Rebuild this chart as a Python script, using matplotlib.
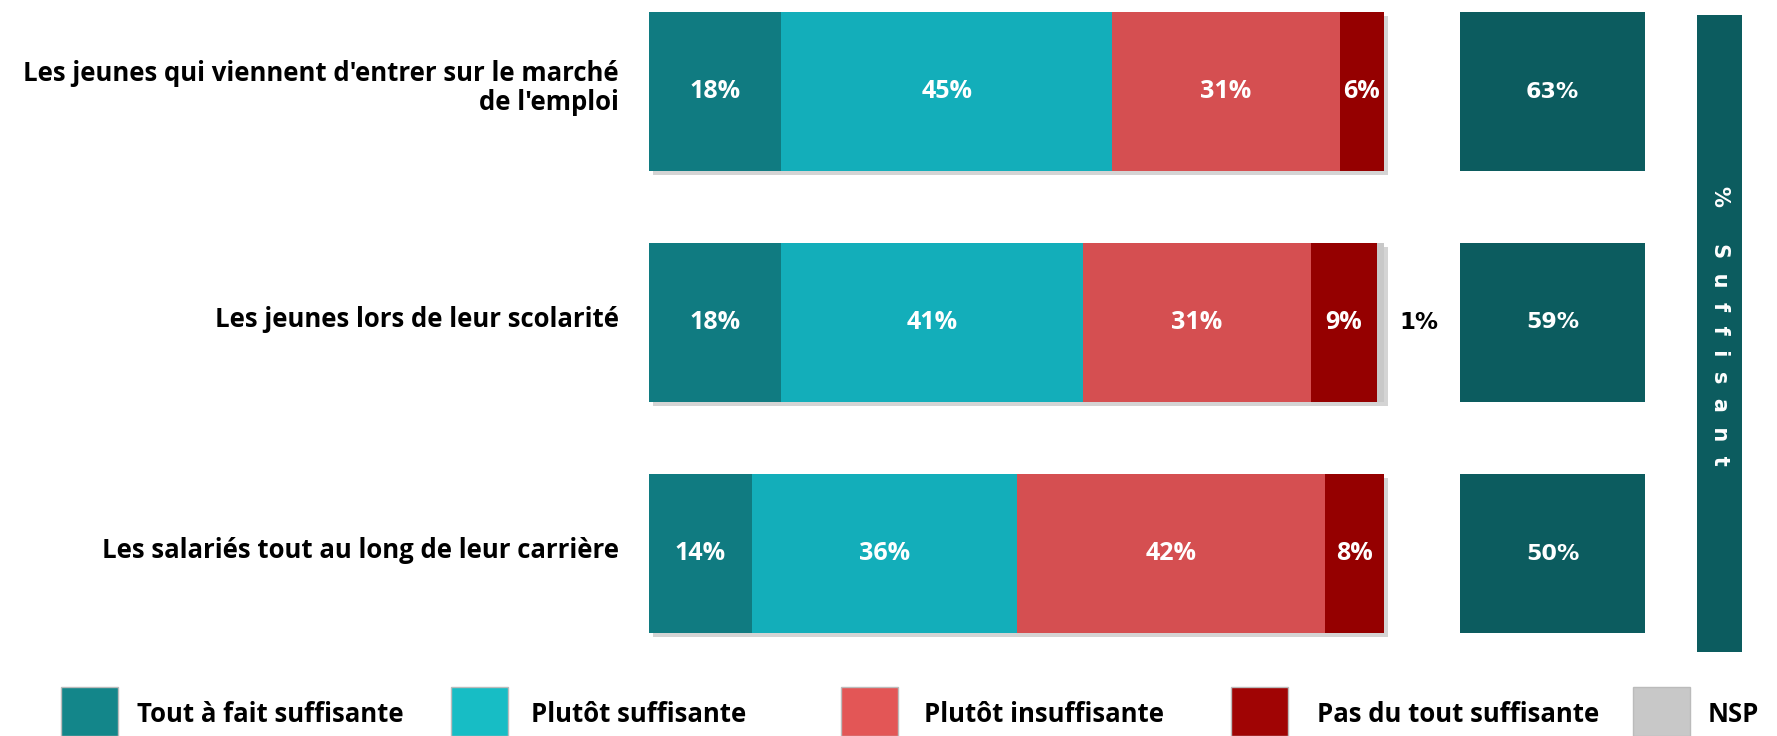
import matplotlib.pyplot as plt
import matplotlib.patheffects as pe
from matplotlib.patches import Rectangle

# ── Data ──────────────────────────────────────────────────────────────────────
CATEGORIES = [
    "Les jeunes qui viennent d'entrer sur le marché\nde l'emploi",
    "Les jeunes lors de leur scolarité",
    "Les salariés tout au long de leur carrière",
]
SERIES = ["Tout à fait suffisante", "Plutôt suffisante", "Plutôt insuffisante",
          "Pas du tout suffisante", "NSP"]
TOUT_A_FAIT = [18, 18, 14]
PLUTOT_SUFF = [45, 41, 36]
PLUTOT_INSUFF = [31, 31, 42]
PAS_DU_TOUT = [6, 9, 8]
NSP = [0, 1, 0]
SUFFISANT = [63, 59, 50]

# ── Colours ───────────────────────────────────────────────────────────────────
BAR_COLOURS = ["#107B81", "#13AEBA", "#D54F51", "#950000", "#C8C8C8"]
LEGEND_COLOURS = ["#13868A", "#17BDC5", "#E35656", "#A00404", "#C8C8C8"]
SUMMARY_COLOUR = "#0C5C5F"

LABEL_FONT = "Open Sans"
NUM_FONT = "DejaVu Sans"

# ── Figure ────────────────────────────────────────────────────────────────────
W, H = 1777, 736
fig = plt.figure(figsize=(W / 100, H / 100), dpi=100)
fig.patch.set_facecolor("white")

# main axes: x=0..100 maps to 649..1384 px
px_per_unit = (1384 - 649) / 100
ax_left, ax_right = 649, 1777
ax = fig.add_axes([ax_left / W, (H - 660) / H, (ax_right - ax_left) / W, 660 / H])
ax.set_xlim(0, (ax_right - ax_left) / px_per_unit)
row_px = 231
ax.set_ylim((660 - 91.5) / row_px, -91.5 / row_px)
ax.axis("off")

ypos = list(range(len(CATEGORIES)))
bar_h = 0.69
shadow = [pe.SimplePatchShadow(offset=(3, -3), shadow_rgbFace="#a0a0a0", alpha=0.45),
          pe.Normal()]

left = [0] * len(CATEGORIES)
for vals, col in zip([TOUT_A_FAIT, PLUTOT_SUFF, PLUTOT_INSUFF, PAS_DU_TOUT, NSP],
                     BAR_COLOURS):
    bars = ax.barh(ypos, vals, left=left, height=bar_h, color=col, linewidth=0)
    for b in bars:
        b.set_path_effects(shadow)
    for i, v in enumerate(vals):
        if v >= 5:
            ax.text(left[i] + v / 2, i, f"{v}%", ha="center", va="center",
                    color="white", fontsize=18, fontweight="bold",
                    family=LABEL_FONT)
        elif v > 0:
            ax.text(left[i] + v + 2.1, i, f"{v}%", ha="left", va="center",
                    color="black", fontsize=16.5, fontweight="bold",
                    family=NUM_FONT)
    left = [l + v for l, v in zip(left, vals)]

# category labels
for i, cat in enumerate(CATEGORIES):
    ax.text(-(649 - 619) / px_per_unit, i - 0.015, cat, ha="right", va="center",
            fontsize=18.5, fontweight="bold", family=LABEL_FONT,
            linespacing=1.12)

# summary boxes (% suffisant)
box_x0 = (1460 - 649) / px_per_unit
box_w = (1645 - 1460) / px_per_unit
ax.barh(ypos, [box_w] * len(SUFFISANT), left=box_x0, height=bar_h,
        color=SUMMARY_COLOUR, linewidth=0)
for i, v in enumerate(SUFFISANT):
    ax.text(box_x0 + box_w / 2, i, f"{v}%", ha="center", va="center",
            color="white", fontsize=16, fontweight="bold", family=NUM_FONT)

# vertical header bar
vx0 = (1697 - 649) / px_per_unit
vw = (1742 - 1697) / px_per_unit
vy0 = (15 - 91.5) / row_px
vy1 = (652 - 91.5) / row_px
ax.add_patch(Rectangle((vx0, vy0), vw, vy1 - vy0, color=SUMMARY_COLOUR, lw=0))
ax.text(vx0 + vw / 2, ((170 + 482) / 2 - 91.5) / row_px,
        "  ".join("% Suffisant"), rotation=-90, ha="center", va="center",
        color="white", fontsize=15, fontweight="bold", family=NUM_FONT)

# legend (manual, spread across the bottom)
sq_x = [61, 451, 841, 1231, 1633]
txt_x = [137, 531, 924, 1317, 1708]
for sx, tx, col, lab in zip(sq_x, txt_x, LEGEND_COLOURS, SERIES):
    fig.add_artist(Rectangle((sx / W, 0), 57 / W, (H - 687) / H,
                             transform=fig.transFigure, facecolor=col,
                             edgecolor="#BBBBBB", linewidth=1.0))
    fig.text(tx / W, (H - 714) / H, lab, ha="left", va="center",
             fontsize=18.5, fontweight="bold", family=LABEL_FONT)

fig.savefig("out.png", dpi=100, facecolor="white")
